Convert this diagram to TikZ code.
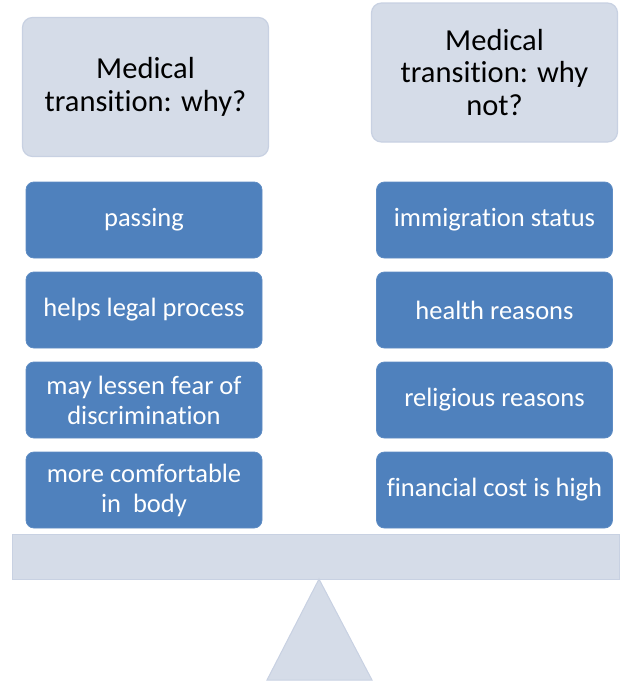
\documentclass[tikz,border=0pt]{standalone}
\usepackage{fontspec}
\setmainfont{Carlito}[Ligatures={NoCommon}]
\definecolor{lightfill}{HTML}{D5DCE8}
\definecolor{lightedge}{HTML}{C8D1E2}
\definecolor{bluefill}{HTML}{4F81BD}
\definecolor{blueedge}{HTML}{5E8CC4}
\begin{document}
\begin{tikzpicture}[x=1pt,y=-1pt,
  titlebox/.style={draw=lightedge,line width=1.2pt,fill=lightfill,rounded corners=10pt,
    minimum width=246pt,minimum height=139pt,align=center,text=black,
    font=\fontsize{30.5}{32.5}\selectfont,inner sep=0pt},
  itembox/.style={draw=blueedge,line width=0.8pt,fill=bluefill,rounded corners=8pt,
    minimum width=236pt,minimum height=76pt,align=center,text=white,
    font=\fontsize{26.5}{30}\selectfont,inner sep=0pt},
  scalepart/.style={draw=lightedge,line width=1pt,fill=lightfill}]
\useasboundingbox (0,0) rectangle (619,683);
\node[titlebox] (tl) at (145.5,87) {Medical\\transition: why?};
\node[titlebox] (tr) at (494.5,72.5) {Medical\\transition: why\\not?};
\node[itembox] (l1) at (144,220) {passing};
\node[itembox] (l2) at (144,310) {helps legal process};
\node[itembox] (l3) at (144,400) {may lessen fear of\\discrimination};
\node[itembox] (l4) at (144,490) {more comfortable\\in\ \ body};
\node[itembox] (r1) at (494.5,220) {immigration status};
\node[itembox] (r2) at (494.5,310) {health reasons};
\node[itembox] (r3) at (494.5,400) {religious reasons};
\node[itembox] (r4) at (494.5,490) {financial cost is high};
\coordinate (bm1) at (12.5,534);
\coordinate (bm2) at (619,579);
\draw[scalepart] (bm1) rectangle (bm2);
\coordinate (apex) at (319,579);
\coordinate (bl) at (267,680);
\coordinate (br) at (372,680);
\draw[scalepart] (apex) -- (br) -- (bl) -- cycle;
\end{tikzpicture}
\end{document}
